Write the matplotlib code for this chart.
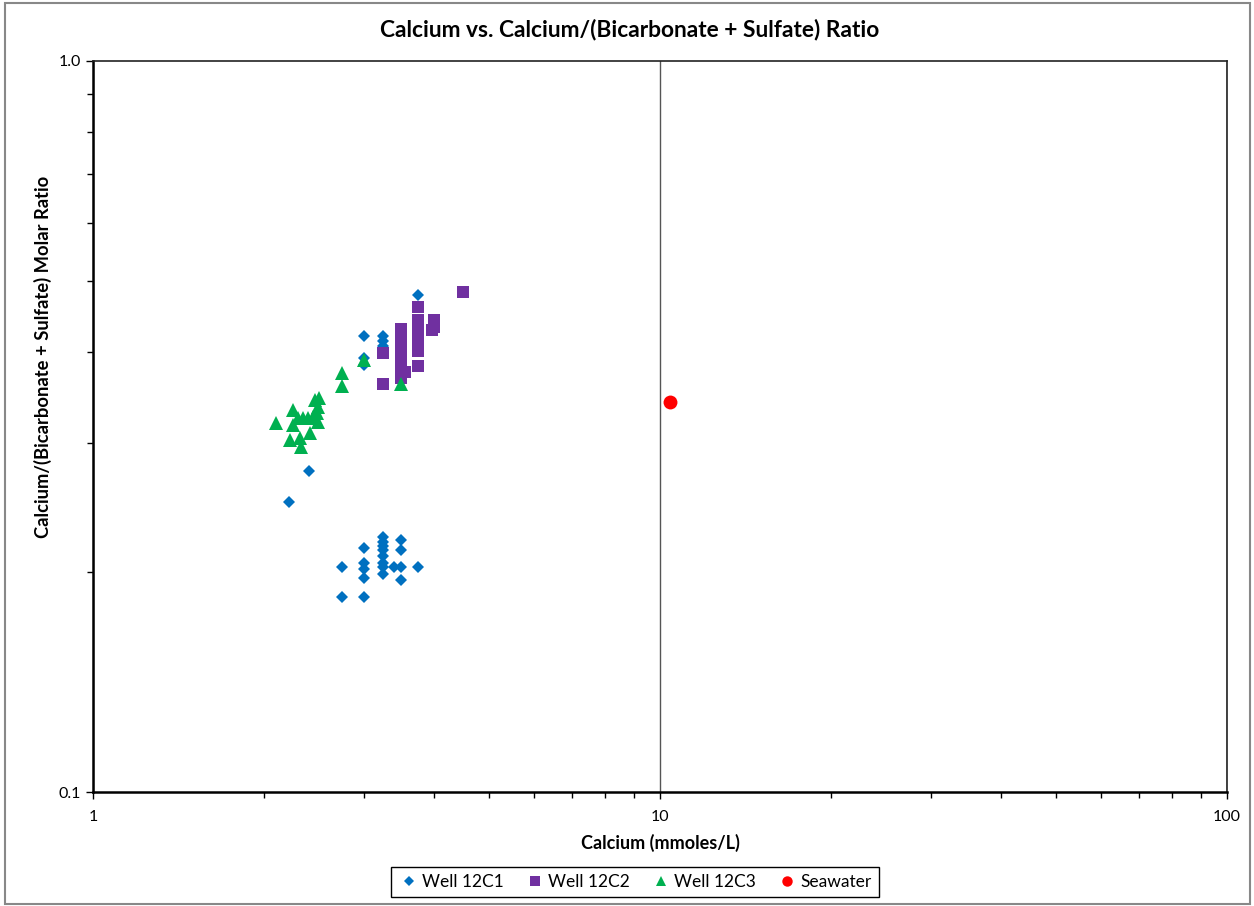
import matplotlib
matplotlib.use("Agg")
import matplotlib.pyplot as plt
from matplotlib.patches import Rectangle
from matplotlib.ticker import FixedLocator, LogLocator, NullFormatter, FuncFormatter

plt.rcParams['font.family'] = ['Lato', 'DejaVu Sans']

# Well 12C1 (calcium mmol/L, Ca/(HCO3+SO4) molar ratio)
c1_ca = [3.75, 3.0, 3.25, 3.25, 3.25, 3.25, 3.0, 3.0, 2.4, 2.22,
         2.75, 2.75, 3.0, 3.0, 3.0, 3.0, 3.0,
         3.25, 3.25, 3.25, 3.25, 3.25, 3.25, 3.25, 3.25,
         3.5, 3.5, 3.5, 3.5, 3.4, 3.75]
c1_ratio = [0.478, 0.420, 0.420, 0.414, 0.407, 0.402, 0.392, 0.384, 0.275, 0.249,
            0.203, 0.185, 0.216, 0.206, 0.202, 0.196, 0.185,
            0.223, 0.220, 0.217, 0.214, 0.210, 0.206, 0.203, 0.199,
            0.221, 0.214, 0.203, 0.195, 0.203, 0.203]

# Well 12C2
c2_ca = [4.5, 3.75, 3.25, 3.25,
         3.5, 3.5, 3.5, 3.5, 3.5, 3.5, 3.5, 3.5, 3.55,
         3.75, 3.75, 3.75, 3.75, 3.75, 3.75, 3.75,
         4.0, 4.0, 3.96]
c2_ratio = [0.483, 0.461, 0.399, 0.362,
            0.430, 0.419, 0.409, 0.400, 0.390, 0.381, 0.374, 0.369, 0.376,
            0.442, 0.433, 0.423, 0.414, 0.406, 0.401, 0.383,
            0.442, 0.433, 0.429]

# Well 12C3
c3_ca = [3.5, 3.0, 2.75, 2.75, 2.10, 2.25, 2.25, 2.226, 2.32, 2.33,
         2.41, 2.35, 2.30, 2.39, 2.46, 2.50, 2.49, 2.48, 2.49, 2.44]
c3_ratio = [0.362, 0.390, 0.374, 0.359, 0.320, 0.333, 0.318, 0.303, 0.305, 0.2965,
            0.310, 0.325, 0.325, 0.325, 0.344, 0.346, 0.336, 0.330, 0.321, 0.326]

# Seawater
sw_ca = [10.4]
sw_ratio = [0.342]

fig = plt.figure(figsize=(12.54, 9.06), dpi=100)
ax = fig.add_axes([93 / 1254, 1 - 792 / 906, (1227 - 93) / 1254, (792 - 61) / 906])

ax.plot(c1_ca, c1_ratio, 'D', color='#0070C0', markersize=6.5, markeredgewidth=0, label='Well 12C1')
ax.plot(c2_ca, c2_ratio, 's', color='#7030A0', markersize=9, markeredgewidth=0, label='Well 12C2')
ax.plot(c3_ca, c3_ratio, '^', color='#00B050', markersize=10, markeredgewidth=0, label='Well 12C3')
ax.plot(sw_ca, sw_ratio, 'o', color='#FF0000', markersize=10, markeredgewidth=0, label='Seawater')

ax.set_xscale('log')
ax.set_yscale('log')
ax.set_xlim(1, 100)
ax.set_ylim(0.1, 1.0)

ax.xaxis.set_major_locator(FixedLocator([1, 10, 100]))
ax.xaxis.set_major_formatter(FuncFormatter(lambda v, p: '%g' % v))
ax.xaxis.set_minor_locator(LogLocator(base=10, subs=range(2, 10)))
ax.xaxis.set_minor_formatter(NullFormatter())
ax.yaxis.set_major_locator(FixedLocator([0.1, 1.0]))
ax.yaxis.set_major_formatter(FuncFormatter(lambda v, p: '%.1f' % v))
ax.yaxis.set_minor_locator(LogLocator(base=10, subs=range(2, 10)))
ax.yaxis.set_minor_formatter(NullFormatter())

ax.tick_params(which='major', direction='out', length=5, width=1, labelsize=11.5, color='black')
ax.tick_params(which='minor', direction='out', length=4, width=1, color='black')
ax.tick_params(axis='x', pad=8)

ax.grid(True, which='major', axis='x', color='#555555', linewidth=1)
ax.set_axisbelow(True)

for side in ['top', 'right']:
    ax.spines[side].set_color('#222222')
    ax.spines[side].set_linewidth(1.2)
for side in ['left', 'bottom']:
    ax.spines[side].set_color('black')
    ax.spines[side].set_linewidth(1.8)

fig.text(630 / 1254, 1 - 29 / 906, 'Calcium vs. Calcium/(Bicarbonate + Sulfate) Ratio',
         fontsize=16.4, fontweight='bold', ha='center', va='center')
ax.set_xlabel('Calcium (mmoles/L)', fontsize=13, fontweight='bold', labelpad=7)
ax.set_ylabel('Calcium/(Bicarbonate + Sulfate) Molar Ratio', fontsize=13.2, fontweight='bold')
ax.yaxis.set_label_coords(-0.036, (792 - 357) / 731)

leg = fig.legend(loc='center', bbox_to_anchor=(635 / 1254, 1 - 882 / 906), ncol=4,
                 fancybox=False, edgecolor='black', framealpha=1, fontsize=12.5,
                 handletextpad=0.2, columnspacing=1.15, markerscale=0.75,
                 borderpad=0.4, handlelength=1.2)
leg.get_frame().set_linewidth(1)

fig.patches.append(Rectangle((0.004, 0.002), 0.993, 0.995, transform=fig.transFigure,
                             fill=False, edgecolor='#888888', linewidth=1.5))

fig.savefig('out.png', dpi=100)
